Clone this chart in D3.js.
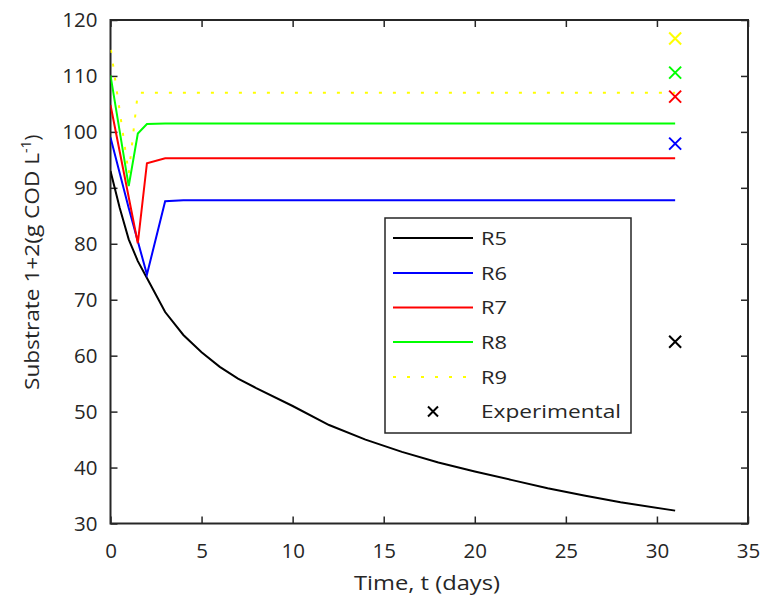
<!DOCTYPE html>
<html><head><meta charset="utf-8">
<script src="https://cdn.jsdelivr.net/npm/d3@7"></script>
<style>body{margin:0;background:#fff;} text{font-family:"Open Sans",Lato,sans-serif;fill:#262626;}</style>
</head><body>
<svg id="c" width="763" height="602"></svg>
<script>
// ---- data ----
const r5T = [0, 0.5, 1, 1.5, 2, 3, 4, 5, 6, 7, 8, 10, 12, 14, 16, 18, 20, 22, 24, 26, 28, 31];
const r5V = [93, 86.5, 80.8, 76.9, 73.9, 67.8, 63.7, 60.6, 58.0, 55.9, 54.2, 51.0, 47.6, 45.0, 42.8, 40.9, 39.3, 37.8, 36.3, 35.0, 33.8, 32.3];
const r6T = [0, 1, 2, 3, 4, 31];
const r6V = [99, 86.4, 74.5, 87.6, 87.8, 87.8];
const r7T = [0, 1.5, 2, 3, 31];
const r7V = [104.8, 80.1, 94.4, 95.3, 95.3];
const r8T = [0, 1, 1.5, 2, 3, 31];
const r8V = [110.1, 90.3, 99.7, 101.4, 101.5, 101.5];
const r9T = [0, 1, 1.5, 2, 31];
const r9V = [115.2, 92.5, 107.0, 107.0, 107.0];
const expT = [31, 31, 31, 31, 31];
const expV = [116.7, 110.6, 106.3, 97.9, 62.5];
const expColors = ["#ffff00", "#00ff00", "#ff0000", "#0000ff", "#000000"];
const seriesNames = ["R5", "R6", "R7", "R8", "R9"];
const seriesColors = ["#000000", "#0000ff", "#ff0000", "#00ff00", "#ffff00"];
const xTicks = [0, 5, 10, 15, 20, 25, 30, 35];
const yTicks = [30, 40, 50, 60, 70, 80, 90, 100, 110, 120];

// ---- layout ----
const L = 110.5, R = 748, T = 20, B = 523.5;
const svg = d3.select("#c");
const x = d3.scaleLinear().domain([0, 35]).range([L, R]);
const y = d3.scaleLinear().domain([30, 120]).range([B, T]);
const axCol = "#262626";

const gx = svg.append("g").attr("transform", `translate(0,${B})`)
  .call(d3.axisBottom(x).tickValues(xTicks).tickSizeInner(-7).tickSizeOuter(0).tickPadding(20));
const gxt = svg.append("g").attr("transform", `translate(0,${T})`)
  .call(d3.axisTop(x).tickValues(xTicks).tickSizeInner(-7).tickSizeOuter(0).tickFormat(""));
const gy = svg.append("g").attr("transform", `translate(${L},0)`)
  .call(d3.axisLeft(y).tickValues(yTicks).tickSizeInner(-7).tickSizeOuter(0).tickPadding(13));
const gyr = svg.append("g").attr("transform", `translate(${R},0)`)
  .call(d3.axisRight(y).tickValues(yTicks).tickSizeInner(-7).tickSizeOuter(0).tickFormat(""));
[gx, gxt, gy, gyr].forEach(g => {
  g.select(".domain").remove();
  g.selectAll("line").attr("stroke", axCol).attr("stroke-width", 1.5);
  g.selectAll("text").style("font-size", "20.5px").attr("fill", axCol);
});
svg.append("rect").attr("x", L).attr("y", T).attr("width", R - L).attr("height", B - T)
  .attr("fill", "none").attr("stroke", axCol).attr("stroke-width", 2);

// ---- lines ----
const line = d3.line().x(d => x(d[0])).y(d => y(d[1]));
const sets = [[r5T, r5V], [r6T, r6V], [r7T, r7V], [r8T, r8V], [r9T, r9V]];
svg.append("clipPath").attr("id", "cp").append("rect")
  .attr("x", L).attr("y", T).attr("width", R - L).attr("height", B - T);
sets.forEach((s, i) => {
  const pts = s[0].map((t, j) => [t, s[1][j]]);
  svg.append("path").attr("d", line(pts)).attr("fill", "none")
    .attr("stroke", seriesColors[i]).attr("stroke-width", 2)
    .attr("stroke-dasharray", i === 4 ? "3,11" : null)
    .attr("stroke-dashoffset", i === 4 ? -3 : null)
    .attr("clip-path", "url(#cp)");
});
// experimental markers
const ms = 6;
expT.forEach((t, i) => {
  const cx = x(t), cy = y(expV[i]);
  svg.append("path")
    .attr("d", `M${cx - ms},${cy - ms}L${cx + ms},${cy + ms}M${cx - ms},${cy + ms}L${cx + ms},${cy - ms}`)
    .attr("stroke", expColors[i]).attr("stroke-width", 2).attr("fill", "none");
});

// ---- legend ----
const lg = svg.append("g");
lg.append("rect").attr("x", 385).attr("y", 218).attr("width", 246).attr("height", 215)
  .attr("fill", "#fff").attr("stroke", axCol).attr("stroke-width", 1.5);
const rowY = [238, 273, 307.5, 342, 377, 411.5];
seriesNames.forEach((n, i) => {
  lg.append("line").attr("x1", 393).attr("x2", 473).attr("y1", rowY[i]).attr("y2", rowY[i])
    .attr("stroke", seriesColors[i]).attr("stroke-width", 2)
    .attr("stroke-dasharray", i === 4 ? "3,11" : null);
  lg.append("text").attr("x", 481).attr("y", rowY[i]).attr("dy", "0.36em")
    .attr("textLength", 26).attr("lengthAdjust", "spacingAndGlyphs")
    .style("font-size", "19px").text(n);
});
{
  const cx = 433, cy = rowY[5], m = 5;
  lg.append("path").attr("d", `M${cx - m},${cy - m}L${cx + m},${cy + m}M${cx - m},${cy + m}L${cx + m},${cy - m}`)
    .attr("stroke", "#000").attr("stroke-width", 2);
  lg.append("text").attr("x", 481).attr("y", cy).attr("dy", "0.36em")
    .attr("textLength", 140).attr("lengthAdjust", "spacingAndGlyphs")
    .style("font-size", "19px").text("Experimental");
}

// ---- axis titles ----
svg.append("text").attr("x", 427).attr("y", 590).attr("text-anchor", "middle")
  .attr("textLength", 146).attr("lengthAdjust", "spacingAndGlyphs")
  .style("font-size", "20px").text("Time, t (days)");
const yl = svg.append("text").attr("transform", `translate(39,${390}) rotate(-90)`)
  .style("font-size", "20px");
yl.append("tspan").attr("textLength", 237).attr("lengthAdjust", "spacingAndGlyphs").text("Substrate 1+2(g COD L");
yl.append("tspan").attr("dy", -8).style("font-size", "14px").text("-1");
yl.append("tspan").attr("dy", 8).text(")");
</script>
</body></html>
